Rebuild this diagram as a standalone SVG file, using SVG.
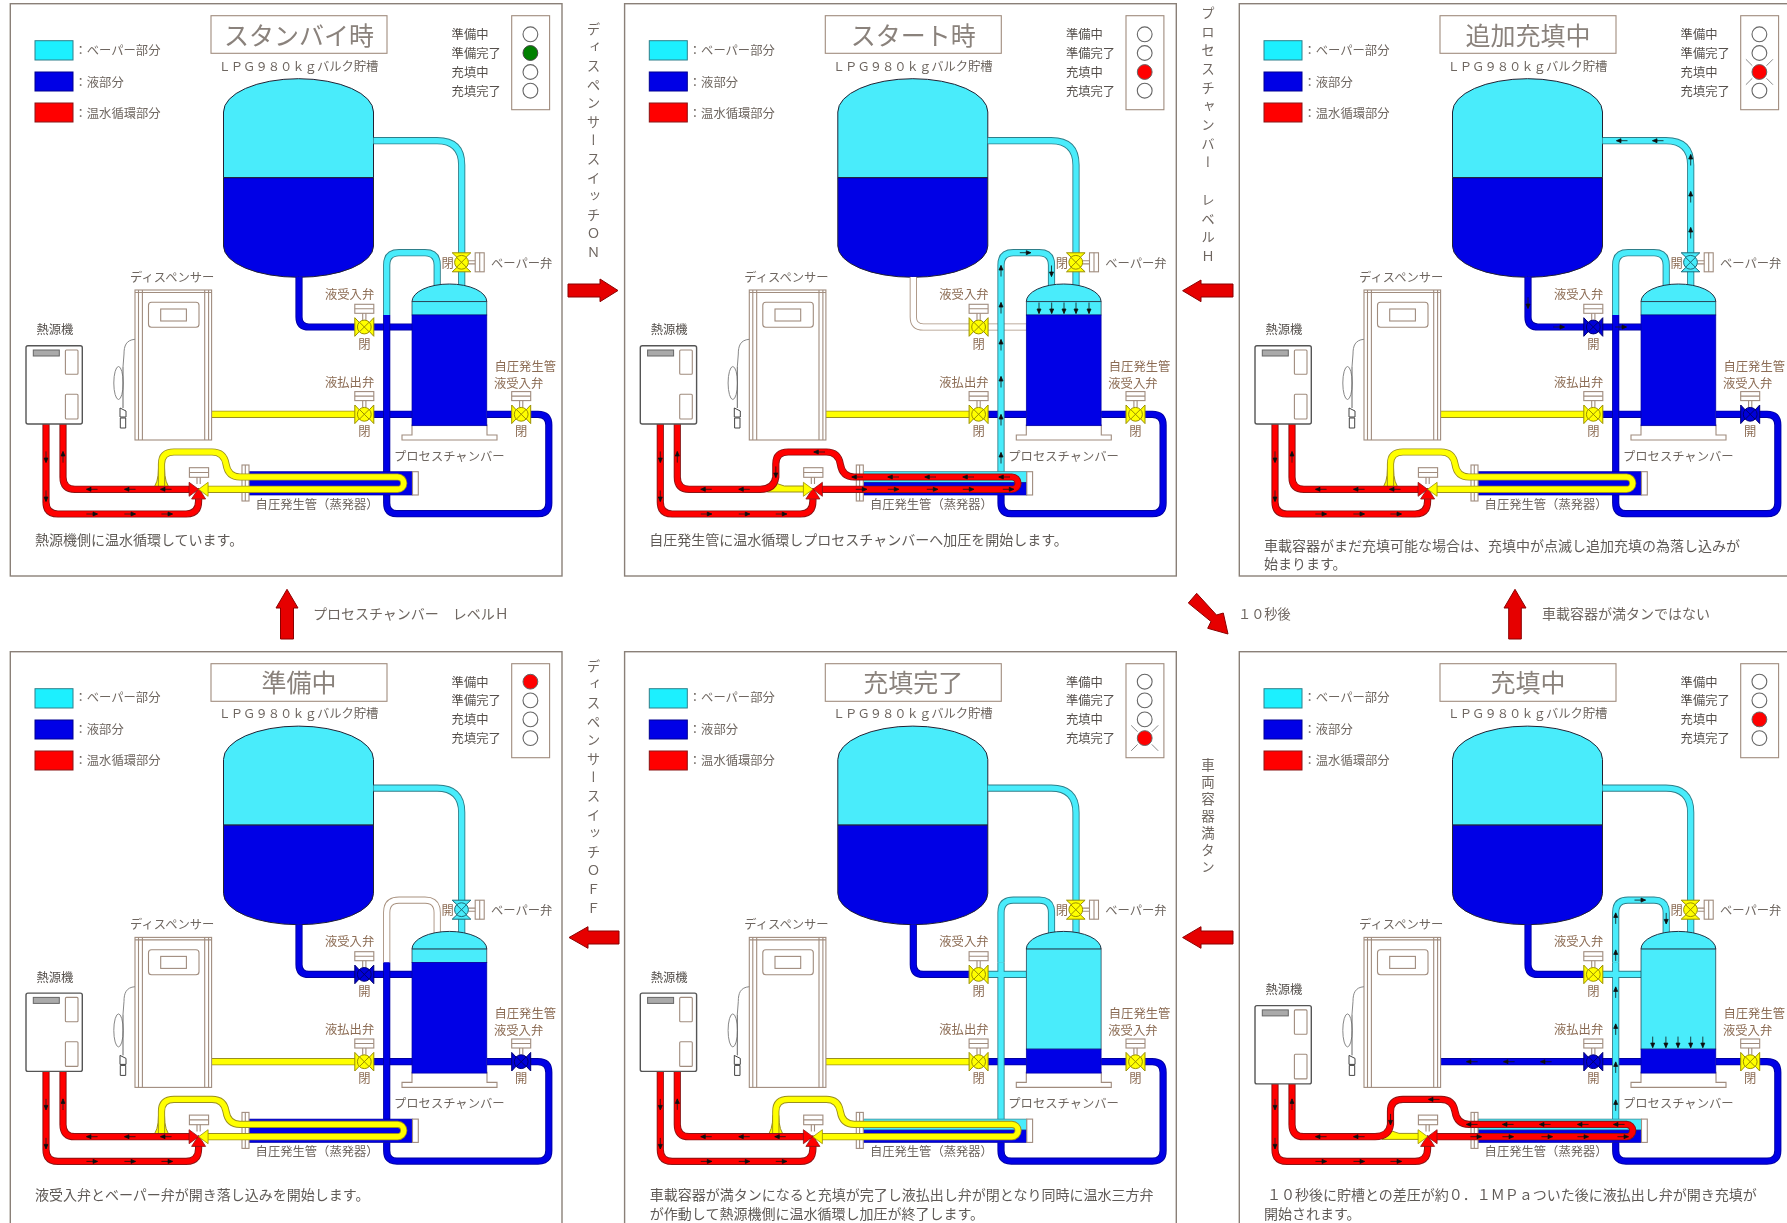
<svg xmlns="http://www.w3.org/2000/svg" width="1787" height="1223" viewBox="0 0 1787 1223">
<style>
text{font-family:"Noto Sans CJK JP","Noto Sans",sans-serif;fill:#6e6660;dominant-baseline:central;font-size:12.3px}
.br{fill:#8c6c54}
.cap{font-size:14px;fill:#5f5a56}
.ttl{font-size:25px;text-anchor:middle;fill:#8a827c}
.dk{fill:#55504c}
.oc,.ob,.oy,.or,.ow{fill:none;stroke-width:7.2}
.ic,.ib,.iy,.ir,.iw{fill:none;stroke-width:5.4}
.oc{stroke:#2f7f8a}.ic{stroke:#48ecfb}
.ob{stroke:#0000a0}.ib{stroke:#0000e6}
.oy{stroke:#9a8f20}.iy{stroke:#ffff00}
.or{stroke:#8a1414}.ir{stroke:#ff0000}
.ow{stroke:#a8917f}.iw{stroke:#ffffff}
.vy{fill:#ffff00;stroke:#9a8f00;stroke-width:1}
.vb{fill:#0000d8;stroke:#000070;stroke-width:1}
.vc{fill:#48ecfb;stroke:#1c6a78;stroke-width:1}
.tr{fill:#ff0000;stroke:#8a1414;stroke-width:.8}
.ty{fill:#ffff00;stroke:#9a8f00;stroke-width:.8}
.ln{fill:#fff;stroke:#a08c7e;stroke-width:1.1}
.nf{fill:none;stroke:#a08c7e;stroke-width:1.1}
.s{fill:#fff;stroke:#666;stroke-width:1.1}
.sr{fill:#ff0000;stroke:#666;stroke-width:1}
.sg{fill:#008000;stroke:#444;stroke-width:1}
.fl{stroke:#888;stroke-width:1;fill:none}
.a{fill:#111;stroke:#111;stroke-width:.8}
.big{fill:#e60000;stroke:#8a0000;stroke-width:1}
</style>
<defs>
<filter id="soft" filterUnits="userSpaceOnUse" x="0" y="0" width="1787" height="1223"><feGaussianBlur stdDeviation="0.4"/></filter>
<path id="aL" d="M-5.5 0H5.5M-5.5 0L-1-2V2Z"/>
<path id="aR" d="M5.5 0H-5.5M5.5 0L1-2V2Z"/>
<path id="aU" d="M0-5.5V5.5M0-5.5L-2-1H2Z"/>
<path id="aD" d="M0 5.5V-5.5M0 5.5L-2 1H2Z"/>
<path id="vap" d="M373.5 140.7H437Q461.7 140.7 461.7 165V290"/>
<path id="byU" d="M437.2 290V265Q437.2 252.7 425 252.7H399Q386.7 252.7 386.7 265V315"/>
<path id="byL" d="M386.7 315V472"/>
<path id="loop" d="M386.7 495V503Q386.7 513.7 397 513.7H538Q548.8 513.7 548.8 503V425Q548.8 414.3 538 414.3H487"/>
<path id="in1" d="M299 277V317Q299 327 309 327H356"/>
<path id="in2" d="M373 327H412"/>
<path id="out1" d="M211.6 414.3H356"/>
<path id="out2" d="M373 414.3H412"/>
<path id="rL" d="M46 424V502Q46 514 58 514H186Q198.6 514 198.6 501V495"/>
<path id="rU" d="M63 424V477Q63 489.3 75 489.3H190"/>
<path id="rU2" d="M63 424V477Q63 489.3 75 489.3H146Q160 489.3 161.5 477V464Q161.5 452 174 452H212Q224 452 226 464Q228 477 240 477H397.6A6.15 6.15 0 0 1 397.6 489.3H207"/>
<path id="tube" d="M161.5 487V464Q161.5 452 174 452H212Q224 452 226 464Q228 477 240 477H397.6A6.15 6.15 0 0 1 397.6 489.3H207"/>
<g id="vv"><path d="M-9.5-9.3L-5-4.5H5L9.5-9.3V9.3L5 4.5H-5L-9.5 9.3Z"/><circle r="6.9"/><path d="M-4.8-4.8L4.8 4.8M-4.8 4.8L4.8-4.8"/></g>
<g id="act"><rect class="ln" x="-9.5" y="-22.7" width="19" height="9"/><path class="nf" d="M-9.5-18.2H9.5M-1.6-13.7V-7M1.6-13.7V-7"/></g>
<g id="fr">
<rect x="10.3" y="3.7" width="551.7" height="572.3" fill="#fff" stroke="#8a8078" stroke-width="1.4"/>
<rect x="211" y="15.7" width="176" height="37.6" class="ln" stroke-width="1.3"/>
<rect x="35" y="40.7" width="38" height="19.3" fill="#1ff0ff" stroke="#2f7f8a"/>
<rect x="35" y="72" width="38" height="19" fill="#0000e6" stroke="#000090"/>
<rect x="35" y="103" width="38" height="19" fill="#ff0000" stroke="#8a1414"/>
<rect x="511.7" y="15.7" width="37.9" height="94" class="ln"/>
</g>
<g id="tank" stroke="#223" stroke-width="1">
<path fill="#48ecfb" d="M223.5 177.7V112A75 33.3 0 0 1 373.5 112V177.7Z"/>
<path fill="#0000e6" d="M223.5 177.7H373.5V246A75 31.3 0 0 1 223.5 246Z"/>
</g>
<path id="cbase" class="ln" d="M412 425V435H402V440H497V435H487V425Z"/>
<path id="dome" fill="#48ecfb" stroke="#234" stroke-width="1" d="M412 301.7A37.4 17.7 0 0 1 486.8 301.7Z"/>
<g id="chamL"><use href="#cbase"/><use href="#dome"/><rect x="412" y="301.7" width="74.8" height="13.3" fill="#48ecfb" stroke="#234" stroke-width=".7"/><rect x="412" y="315" width="74.8" height="110.7" fill="#0000e6" stroke="#0000a0" stroke-width=".7"/></g>
<g id="chamH"><use href="#cbase"/><use href="#dome"/><rect x="412" y="301.7" width="74.8" height="100" fill="#48ecfb" stroke="#234" stroke-width=".7"/><rect x="412" y="401.7" width="74.8" height="24" fill="#0000e6" stroke="#0000a0" stroke-width=".7"/></g>
<g id="evEnds"><rect class="ln" x="242" y="465" width="7" height="36"/><path class="nf" d="M245.3 465V501"/><rect class="ln" x="412.5" y="471.7" width="5.8" height="23.3"/></g>
<g id="evB"><rect x="249" y="471.7" width="163.5" height="23.3" fill="#0000e6" stroke="#0000a0" stroke-width=".7"/><use href="#evEnds"/></g>
<g id="evC"><rect x="249" y="471.7" width="163.5" height="11" fill="#48ecfb" stroke="#2f7f8a" stroke-width=".7"/><rect x="249" y="482.7" width="163.5" height="12.3" fill="#0000e6" stroke="#0000a0" stroke-width=".7"/><use href="#evEnds"/></g>
<g id="t3act"><rect class="ln" x="189.4" y="467.7" width="19.2" height="9.6"/><path class="nf" d="M189.4 472.5H208.6M197 477.3V484M200.2 477.3V484"/></g>
<path id="tlL" d="M189.1 482.3L198.6 489.3L189.1 496.3Z"/>
<path id="tlR" d="M208.1 482.3L198.6 489.3L208.1 496.3Z"/>
<path id="tlB" d="M191.6 499L198.6 488L205.6 499Z"/>
<g id="rArrows" class="a">
<use href="#aD" x="46" y="457"/><use href="#aD" x="46" y="496"/><use href="#aU" x="63" y="457"/>
<use href="#aR" x="92" y="514"/><use href="#aR" x="130" y="514"/><use href="#aR" x="167" y="514"/>
<use href="#aL" x="92" y="489.3"/><use href="#aL" x="130" y="489.3"/>
</g>
<g id="heatY">
<path fill="#ffff00" stroke="#9a8f20" d="M152 489Q158.5 484 158.5 468H164.5Q164.5 484 171 489Z"/>
<use href="#tube" class="oy"/><use href="#tube" class="iy"/>
<use href="#rL" class="or"/><use href="#rU" class="or"/><use href="#rL" class="ir"/><use href="#rU" class="ir"/>
<use href="#rArrows"/><use href="#aL" class="a" x="166" y="489.3"/>
<use href="#t3act"/><use href="#tlB" class="tr"/><use href="#tlL" class="tr"/><use href="#tlR" class="ty"/>
</g>
<g id="heatR">
<path fill="#ffff00" stroke="#9a8f20" d="M153 492V489Q158 487 158 482L170 486H190V492Z"/>
<use href="#rL" class="or"/><use href="#rU2" class="or"/><use href="#rL" class="ir"/><use href="#rU2" class="ir"/>
<use href="#rArrows"/>
<g class="a"><use href="#aL" x="205" y="452"/><use href="#aD" x="161.5" y="472"/>
<use href="#aL" x="243" y="477"/><use href="#aL" x="279" y="477"/><use href="#aL" x="316" y="477"/><use href="#aL" x="354" y="477"/><use href="#aL" x="390" y="477"/>
<use href="#aR" x="247" y="489.3"/><use href="#aR" x="279" y="489.3"/><use href="#aR" x="318" y="489.3"/><use href="#aR" x="354" y="489.3"/><use href="#aR" x="394" y="489.3"/></g>
<use href="#t3act"/><use href="#tlB" class="tr"/><use href="#tlL" class="ty"/><use href="#tlR" class="tr"/>
</g>
<g id="disp">
<rect class="ln" x="135" y="290" width="76.6" height="150"/>
<path class="nf" d="M135 292.5H211.6M138.5 290V440M142.4 290V440M204.7 290V440M208.6 290V440"/>
<rect class="ln" x="148.5" y="302.3" width="50.5" height="25" rx="3"/>
<rect class="ln" x="160.7" y="309" width="25.7" height="12" stroke="#777" stroke-width="1.8"/>
<path fill="none" stroke="#888" d="M135 339.3C126 340 124 346 124 354L123 367"/>
<ellipse cx="118.5" cy="383" rx="4.7" ry="16.5" fill="none" stroke="#888"/>
<path fill="none" stroke="#666" d="M123 367V408"/>
<path fill="#fff" stroke="#444" d="M120 408L126 411V417H120ZM120.3 418H125.7V428H120.3Z"/>
</g>
<g id="hs">
<rect x="26" y="345.7" width="56.3" height="78.3" rx="2" fill="#fff" stroke="#555" stroke-width="1.4"/>
<rect x="33.3" y="350" width="26" height="6" fill="#aaa" stroke="#666"/>
<rect class="ln" x="65.4" y="350" width="12.6" height="24.3" rx="1"/>
<rect class="ln" x="65.4" y="394.3" width="12.6" height="24.7" rx="1"/>
</g>
<g id="arrDn" class="a"><use href="#aD" x="424.7" y="308"/><use href="#aD" x="437.4" y="308"/><use href="#aD" x="449.7" y="308"/><use href="#aD" x="461.7" y="308"/><use href="#aD" x="474.7" y="308"/></g>
<g id="arrBy" class="a"><use href="#aR" x="411" y="252.7"/><use href="#aD" x="437.2" y="271"/><use href="#aU" x="386.7" y="271"/><use href="#aU" x="386.7" y="308"/><use href="#aU" x="386.7" y="345"/><use href="#aU" x="386.7" y="382"/><use href="#aU" x="386.7" y="420"/><use href="#aU" x="386.7" y="458"/></g>
<g id="flash"><path class="fl" d="M516.9 59.3L523.3 65.7M543.9 59.3L537.5 65.7M516.9 84.7L523.3 78.3M543.9 84.7L537.5 78.3"/></g>
</defs>
<g filter="url(#soft)">
<g id="connectors">
<path class="big" d="M568 284H600V279L618 290.5L600 301.7V297H568Z"/>
<path class="big" d="M1233 284H1201V280L1182.6 290.7L1201 301.7V297H1233Z"/>
<path class="big" d="M619 931H588V926.7L569 937.5L588 948.3V944H619Z"/>
<path class="big" d="M1233 931H1201V926.7L1182.6 937.5L1201 948.3V944H1233Z"/>
<path class="big" d="M280.5 639V608H276L287 589.3L298 608H293.5V639Z"/>
<path class="big" d="M1508.7 639V608H1504L1515 589.3L1526 608H1521.3V639Z"/>
<path class="big" d="M1196.7 593.3L1216.5 615L1223.3 613L1228 634L1207.7 628.3L1211 621.5L1188.3 603Z"/>
</g>
<text x="593.5" y="22" style="writing-mode:vertical-rl;text-anchor:start;font-size:13.5px;letter-spacing:5.1px;dominant-baseline:auto">ディスペンサースイッチＯＮ</text>
<text x="1208" y="6" style="writing-mode:vertical-rl;text-anchor:start;font-size:13.5px;letter-spacing:5.2px;dominant-baseline:auto">プロセスチャンバー　レベルＨ</text>
<text x="593.5" y="659" style="writing-mode:vertical-rl;text-anchor:start;font-size:13.5px;letter-spacing:5.1px;dominant-baseline:auto">ディスペンサースイッチＯＦＦ</text>
<text x="1208" y="758" style="writing-mode:vertical-rl;text-anchor:start;font-size:13.5px;letter-spacing:3.6px;dominant-baseline:auto">車両容器満タン</text>
<text x="313" y="613" style="font-size:14px">プロセスチャンバー　レベルＨ</text>
<text x="1238" y="613.5" style="font-size:13.2px">１０秒後</text>
<text x="1542" y="613" style="font-size:14px">車載容器が満タンではない</text>

<g id="panel1">
<use href="#fr"/>
<circle class="s" cx="530.4" cy="34.3" r="7.4"/><circle class="sg" cx="530.4" cy="53" r="7.4"/><circle class="s" cx="530.4" cy="72" r="7.4"/><circle class="s" cx="530.4" cy="90.7" r="7.4"/>
<use href="#tank"/>
<g class="pipes">
<g class="ob"><use href="#in1"/><use href="#in2"/><use href="#out2"/><use href="#loop"/></g><g class="ib"><use href="#in1"/><use href="#in2"/><use href="#out2"/><use href="#loop"/></g>
<use href="#out1" class="oy"/><use href="#out1" class="iy"/>
<g class="oc"><use href="#vap"/><use href="#byU"/></g><g class="ic"><use href="#vap"/><use href="#byU"/></g>
<use href="#byL" class="ob"/><use href="#byL" class="ib"/>
</g>
<use href="#chamL"/><use href="#evB"/><use href="#heatY"/>
<use href="#act" x="364.3" y="327"/><use href="#vv" class="vy" x="364.3" y="327"/>
<use href="#act" x="364.3" y="414.3"/><use href="#vv" class="vy" x="364.3" y="414.3"/>
<use href="#act" x="521.2" y="414.3"/><use href="#vv" class="vy" x="521.2" y="414.3"/>
<g transform="translate(461.5 262.3) rotate(90)"><use href="#act"/><use href="#vv" class="vy"/></g>
<use href="#disp"/><use href="#hs"/>
<text class="ttl" x="299" y="34">スタンバイ時</text>
<text x="218.5" y="66">ＬＰＧ９８０ｋｇバルク貯槽</text>
<text x="74.5" y="50">：ベーパー部分</text><text x="74.5" y="81.5">：液部分</text><text x="74.5" y="113">：温水循環部分</text>
<text class="dk" x="451.6" y="34.3">準備中</text><text class="dk" x="451.6" y="53">準備完了</text><text class="dk" x="451.6" y="72">充填中</text><text class="dk" x="451.6" y="90.7">充填完了</text>
<text x="130" y="277">ディスペンサー</text><text class="dk" x="36.4" y="329.3">熱源機</text>
<text class="br" x="325" y="294">液受入弁</text><text class="br" x="325" y="381.7">液払出弁</text>
<text class="br" x="494.5" y="366">自圧発生管</text><text class="br" x="494" y="382.5">液受入弁</text>
<text x="491" y="263">ベーパー弁</text><text x="394" y="456">プロセスチャンバー</text><text x="255.6" y="503.5">自圧発生管（蒸発器）</text>
<text class="br" x="358.2" y="344">閉</text><text class="br" x="358.2" y="431">閉</text><text class="br" x="515" y="431">閉</text><text class="br" x="441.5" y="262.5">閉</text>
<text class="cap" x="35" y="539">熱源機側に温水循環しています。</text>
</g>

<g id="panel2" transform="translate(614.3 0)">
<use href="#fr"/>
<circle class="s" cx="530.4" cy="34.3" r="7.4"/><circle class="s" cx="530.4" cy="53" r="7.4"/><circle class="sr" cx="530.4" cy="72" r="7.4"/><circle class="s" cx="530.4" cy="90.7" r="7.4"/>
<use href="#tank"/>
<g class="pipes">
<g class="ow"><use href="#in1"/><use href="#in2"/></g><g class="iw"><use href="#in1"/><use href="#in2"/></g>
<g class="ob"><use href="#out2"/><use href="#loop"/></g><g class="ib"><use href="#out2"/><use href="#loop"/></g>
<use href="#out1" class="oy"/><use href="#out1" class="iy"/>
<g class="oc"><use href="#vap"/><use href="#byU"/><use href="#byL"/></g><g class="ic"><use href="#vap"/><use href="#byU"/><use href="#byL"/></g>
</g>
<use href="#chamL"/><use href="#evC"/><use href="#heatR"/>
<use href="#act" x="364.3" y="327"/><use href="#vv" class="vy" x="364.3" y="327"/>
<use href="#act" x="364.3" y="414.3"/><use href="#vv" class="vy" x="364.3" y="414.3"/>
<use href="#act" x="521.2" y="414.3"/><use href="#vv" class="vy" x="521.2" y="414.3"/>
<g transform="translate(461.5 262.3) rotate(90)"><use href="#act"/><use href="#vv" class="vy"/></g>
<use href="#disp"/><use href="#hs"/><use href="#arrDn"/><use href="#arrBy"/>
<text class="ttl" x="299" y="34">スタート時</text>
<text x="218.5" y="66">ＬＰＧ９８０ｋｇバルク貯槽</text>
<text x="74.5" y="50">：ベーパー部分</text><text x="74.5" y="81.5">：液部分</text><text x="74.5" y="113">：温水循環部分</text>
<text class="dk" x="451.6" y="34.3">準備中</text><text class="dk" x="451.6" y="53">準備完了</text><text class="dk" x="451.6" y="72">充填中</text><text class="dk" x="451.6" y="90.7">充填完了</text>
<text x="130" y="277">ディスペンサー</text><text class="dk" x="36.4" y="329.3">熱源機</text>
<text class="br" x="325" y="294">液受入弁</text><text class="br" x="325" y="381.7">液払出弁</text>
<text class="br" x="494.5" y="366">自圧発生管</text><text class="br" x="494" y="382.5">液受入弁</text>
<text x="491" y="263">ベーパー弁</text><text x="394" y="456">プロセスチャンバー</text><text x="255.6" y="503.5">自圧発生管（蒸発器）</text>
<text class="br" x="358.2" y="344">閉</text><text class="br" x="358.2" y="431">閉</text><text class="br" x="515" y="431">閉</text><text class="br" x="441.5" y="262.5">閉</text>
<text class="cap" x="35" y="539">自圧発生管に温水循環しプロセスチャンバーへ加圧を開始します。</text>
</g>

<g id="panel3" transform="translate(1229 0)">
<use href="#fr"/>
<use href="#flash"/>
<circle class="s" cx="530.4" cy="34.3" r="7.4"/><circle class="s" cx="530.4" cy="53" r="7.4"/><circle class="sr" cx="530.4" cy="72" r="7.4"/><circle class="s" cx="530.4" cy="90.7" r="7.4"/>
<use href="#tank"/>
<g class="pipes">
<g class="ob"><use href="#in1"/><use href="#in2"/><use href="#out2"/><use href="#loop"/></g><g class="ib"><use href="#in1"/><use href="#in2"/><use href="#out2"/><use href="#loop"/></g>
<use href="#out1" class="oy"/><use href="#out1" class="iy"/>
<g class="oc"><use href="#vap"/><use href="#byU"/></g><g class="ic"><use href="#vap"/><use href="#byU"/></g>
<use href="#byL" class="ob"/><use href="#byL" class="ib"/>
</g>
<use href="#chamL"/><use href="#evB"/><use href="#heatY"/>
<use href="#act" x="364.3" y="327"/><use href="#vv" class="vb" x="364.3" y="327"/>
<use href="#act" x="364.3" y="414.3"/><use href="#vv" class="vy" x="364.3" y="414.3"/>
<use href="#act" x="521.2" y="414.3"/><use href="#vv" class="vb" x="521.2" y="414.3"/>
<g transform="translate(461.5 262.3) rotate(90)"><use href="#act"/><use href="#vv" class="vc"/></g>
<use href="#disp"/><use href="#hs"/>
<g class="a"><use href="#aU" x="461.7" y="160"/><use href="#aU" x="461.7" y="197"/><use href="#aU" x="461.7" y="233"/><use href="#aL" x="429" y="140.7"/><use href="#aL" x="393" y="140.7"/><use href="#aD" x="299" y="303"/><use href="#aR" x="330" y="327"/><use href="#aR" x="392" y="327"/></g>
<text class="ttl" x="299" y="34">追加充填中</text>
<text x="218.5" y="66">ＬＰＧ９８０ｋｇバルク貯槽</text>
<text x="74.5" y="50">：ベーパー部分</text><text x="74.5" y="81.5">：液部分</text><text x="74.5" y="113">：温水循環部分</text>
<text class="dk" x="451.6" y="34.3">準備中</text><text class="dk" x="451.6" y="53">準備完了</text><text class="dk" x="451.6" y="72">充填中</text><text class="dk" x="451.6" y="90.7">充填完了</text>
<text x="130" y="277">ディスペンサー</text><text class="dk" x="36.4" y="329.3">熱源機</text>
<text class="br" x="325" y="294">液受入弁</text><text class="br" x="325" y="381.7">液払出弁</text>
<text class="br" x="494.5" y="366">自圧発生管</text><text class="br" x="494" y="382.5">液受入弁</text>
<text x="491" y="263">ベーパー弁</text><text x="394" y="456">プロセスチャンバー</text><text x="255.6" y="503.5">自圧発生管（蒸発器）</text>
<text class="br" x="358.2" y="344">開</text><text class="br" x="358.2" y="431">閉</text><text class="br" x="515" y="431">開</text><text class="br" x="441.5" y="262.5">開</text>
<text class="cap" x="35" y="545">車載容器がまだ充填可能な場合は、充填中が点滅し追加充填の為落し込みが</text>
<text class="cap" x="35" y="563">始まります。</text>
</g>

<g id="panel4" transform="translate(0 647.4)">
<use href="#fr" y=".6"/>
<circle class="sr" cx="530.4" cy="34.3" r="7.4"/><circle class="s" cx="530.4" cy="53" r="7.4"/><circle class="s" cx="530.4" cy="72" r="7.4"/><circle class="s" cx="530.4" cy="90.7" r="7.4"/>
<use href="#tank"/>
<g class="pipes">
<g class="ob"><use href="#in1"/><use href="#in2"/><use href="#out2"/><use href="#loop"/></g><g class="ib"><use href="#in1"/><use href="#in2"/><use href="#out2"/><use href="#loop"/></g>
<use href="#out1" class="oy"/><use href="#out1" class="iy"/>
<use href="#vap" class="oc"/><use href="#vap" class="ic"/>
<use href="#byU" class="ow"/><use href="#byU" class="iw"/>
<use href="#byL" class="ob"/><use href="#byL" class="ib"/>
</g>
<use href="#chamL"/><use href="#evB"/><use href="#heatY"/>
<use href="#act" x="364.3" y="327"/><use href="#vv" class="vb" x="364.3" y="327"/>
<use href="#act" x="364.3" y="414.3"/><use href="#vv" class="vy" x="364.3" y="414.3"/>
<use href="#act" x="521.2" y="414.3"/><use href="#vv" class="vb" x="521.2" y="414.3"/>
<g transform="translate(461.5 262.3) rotate(90)"><use href="#act"/><use href="#vv" class="vc"/></g>
<use href="#disp"/><use href="#hs"/>
<text class="ttl" x="299" y="34">準備中</text>
<text x="218.5" y="66">ＬＰＧ９８０ｋｇバルク貯槽</text>
<text x="74.5" y="50">：ベーパー部分</text><text x="74.5" y="81.5">：液部分</text><text x="74.5" y="113">：温水循環部分</text>
<text class="dk" x="451.6" y="34.3">準備中</text><text class="dk" x="451.6" y="53">準備完了</text><text class="dk" x="451.6" y="72">充填中</text><text class="dk" x="451.6" y="90.7">充填完了</text>
<text x="130" y="277">ディスペンサー</text><text class="dk" x="36.4" y="329.3">熱源機</text>
<text class="br" x="325" y="294">液受入弁</text><text class="br" x="325" y="381.7">液払出弁</text>
<text class="br" x="494.5" y="366">自圧発生管</text><text class="br" x="494" y="382.5">液受入弁</text>
<text x="491" y="263">ベーパー弁</text><text x="394" y="456">プロセスチャンバー</text><text x="255.6" y="503.5">自圧発生管（蒸発器）</text>
<text class="br" x="358.2" y="344">開</text><text class="br" x="358.2" y="431">閉</text><text class="br" x="515" y="431">開</text><text class="br" x="441.5" y="262.5">開</text>
<text class="cap" x="35" y="547">液受入弁とベーパー弁が開き落し込みを開始します。</text>
</g>

<g id="panel5" transform="translate(614.3 647.4)">
<use href="#fr" y=".6"/>
<use href="#flash" y="18.7"/>
<circle class="s" cx="530.4" cy="34.3" r="7.4"/><circle class="s" cx="530.4" cy="53" r="7.4"/><circle class="s" cx="530.4" cy="72" r="7.4"/><circle class="sr" cx="530.4" cy="90.7" r="7.4"/>
<use href="#tank"/>
<g class="pipes">
<g class="ob"><use href="#in1"/><use href="#out2"/><use href="#loop"/></g><g class="ib"><use href="#in1"/><use href="#out2"/><use href="#loop"/></g>
<use href="#out1" class="oy"/><use href="#out1" class="iy"/>
<g class="oc"><use href="#in2"/><use href="#vap"/><use href="#byU"/><use href="#byL"/></g><g class="ic"><use href="#in2"/><use href="#vap"/><use href="#byU"/><use href="#byL"/></g>
</g>
<use href="#chamH"/><use href="#evC"/><use href="#heatY"/>
<use href="#act" x="364.3" y="327"/><use href="#vv" class="vy" x="364.3" y="327"/>
<use href="#act" x="364.3" y="414.3"/><use href="#vv" class="vy" x="364.3" y="414.3"/>
<use href="#act" x="521.2" y="414.3"/><use href="#vv" class="vy" x="521.2" y="414.3"/>
<g transform="translate(461.5 262.3) rotate(90)"><use href="#act"/><use href="#vv" class="vy"/></g>
<use href="#disp"/><use href="#hs"/>
<text class="ttl" x="299" y="34">充填完了</text>
<text x="218.5" y="66">ＬＰＧ９８０ｋｇバルク貯槽</text>
<text x="74.5" y="50">：ベーパー部分</text><text x="74.5" y="81.5">：液部分</text><text x="74.5" y="113">：温水循環部分</text>
<text class="dk" x="451.6" y="34.3">準備中</text><text class="dk" x="451.6" y="53">準備完了</text><text class="dk" x="451.6" y="72">充填中</text><text class="dk" x="451.6" y="90.7">充填完了</text>
<text x="130" y="277">ディスペンサー</text><text class="dk" x="36.4" y="329.3">熱源機</text>
<text class="br" x="325" y="294">液受入弁</text><text class="br" x="325" y="381.7">液払出弁</text>
<text class="br" x="494.5" y="366">自圧発生管</text><text class="br" x="494" y="382.5">液受入弁</text>
<text x="491" y="263">ベーパー弁</text><text x="394" y="456">プロセスチャンバー</text><text x="255.6" y="503.5">自圧発生管（蒸発器）</text>
<text class="br" x="358.2" y="344">閉</text><text class="br" x="358.2" y="431">閉</text><text class="br" x="515" y="431">閉</text><text class="br" x="441.5" y="262.5">閉</text>
<text class="cap" x="35.5" y="547">車載容器が満タンになると充填が完了し液払出し弁が閉となり同時に温水三方弁</text>
<text class="cap" x="35.5" y="565.3">が作動して熱源機側に温水循環し加圧が終了します。</text>
</g>

<g id="panel6" transform="translate(1229 647.4)">
<use href="#fr" y=".6"/>
<circle class="s" cx="530.4" cy="34.3" r="7.4"/><circle class="s" cx="530.4" cy="53" r="7.4"/><circle class="sr" cx="530.4" cy="72" r="7.4"/><circle class="s" cx="530.4" cy="90.7" r="7.4"/>
<use href="#tank"/>
<g class="pipes">
<g class="ob"><use href="#in1"/><use href="#out1"/><use href="#out2"/><use href="#loop"/></g><g class="ib"><use href="#in1"/><use href="#out1"/><use href="#out2"/><use href="#loop"/></g>
<g class="oc"><use href="#in2"/><use href="#vap"/><use href="#byU"/><use href="#byL"/></g><g class="ic"><use href="#in2"/><use href="#vap"/><use href="#byU"/><use href="#byL"/></g>
</g>
<use href="#chamH"/><use href="#evC"/><use href="#heatR"/>
<use href="#act" x="364.3" y="327"/><use href="#vv" class="vy" x="364.3" y="327"/>
<use href="#act" x="364.3" y="414.3"/><use href="#vv" class="vb" x="364.3" y="414.3"/>
<use href="#act" x="521.2" y="414.3"/><use href="#vv" class="vy" x="521.2" y="414.3"/>
<g transform="translate(461.5 262.3) rotate(90)"><use href="#act"/><use href="#vv" class="vy"/></g>
<use href="#disp"/><use href="#hs" y="12.5"/><use href="#arrBy"/>
<g class="a"><use href="#aL" x="243" y="414.3"/><use href="#aL" x="280" y="414.3"/><use href="#aL" x="317" y="414.3"/><use href="#aD" x="423.7" y="394.7"/><use href="#aD" x="436.9" y="394.7"/><use href="#aD" x="449" y="394.7"/><use href="#aD" x="461.7" y="394.7"/><use href="#aD" x="473.8" y="394.7"/></g>
<text class="ttl" x="299" y="34">充填中</text>
<text x="218.5" y="66">ＬＰＧ９８０ｋｇバルク貯槽</text>
<text x="74.5" y="50">：ベーパー部分</text><text x="74.5" y="81.5">：液部分</text><text x="74.5" y="113">：温水循環部分</text>
<text class="dk" x="451.6" y="34.3">準備中</text><text class="dk" x="451.6" y="53">準備完了</text><text class="dk" x="451.6" y="72">充填中</text><text class="dk" x="451.6" y="90.7">充填完了</text>
<text x="130" y="277">ディスペンサー</text><text class="dk" x="36.4" y="342">熱源機</text>
<text class="br" x="325" y="294">液受入弁</text><text class="br" x="325" y="381.7">液払出弁</text>
<text class="br" x="494.5" y="366">自圧発生管</text><text class="br" x="494" y="382.5">液受入弁</text>
<text x="491" y="263">ベーパー弁</text><text x="394" y="456">プロセスチャンバー</text><text x="255.6" y="503.5">自圧発生管（蒸発器）</text>
<text class="br" x="358.2" y="344">閉</text><text class="br" x="358.2" y="431">開</text><text class="br" x="515" y="431">閉</text><text class="br" x="441.5" y="262.5">閉</text>
<text class="cap" x="38" y="547">１０秒後に貯槽との差圧が約０．１ＭＰａついた後に液払出し弁が開き充填が</text>
<text class="cap" x="35" y="565.3">開始されます。</text>
</g>
</g>
</svg>
